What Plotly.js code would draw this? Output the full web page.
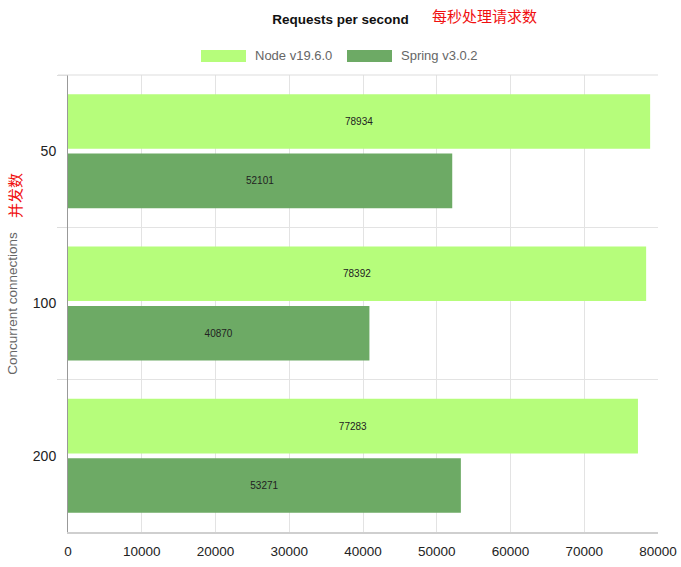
<!DOCTYPE html>
<html>
<head>
<meta charset="utf-8">
<script src="https://cdn.plot.ly/plotly-3.0.1.min.js"></script>
<style>
  html, body { margin:0; padding:0; background:#fff; }
  #chart { width:681px; height:567px; }
</style>
</head>
<body>
<div id="chart"></div>
<script>
// ── Data ──────────────────────────────────────────────────
const connections = ['50', '100', '200'];
const seriesNames = ['Node v19.6.0', 'Spring v3.0.2'];
const nodeRps     = [78934, 78392, 77283];
const springRps   = [52101, 40870, 53271];
const seriesCols  = ['#b6fd7b', '#6daa65'];
const xTicks      = [0, 10000, 20000, 30000, 40000, 50000, 60000, 70000, 80000];

const FONT = '"Liberation Sans", Arial, sans-serif';
const CJK  = '"Noto Sans CJK SC", sans-serif';

const barTrace = (name, vals, col) => ({
  type:'bar', orientation:'h', name,
  y: connections, x: vals,
  marker:{color:col},
  text: vals.map(String),
  textposition:'inside', insidetextanchor:'middle', textangle:0,
  textfont:{size:10, color:'#222', family:FONT},
  constraintext:'none',
  hovertemplate:`<b>${name}</b><br>%{y}: %{x}<extra></extra>`,
});

const traces = [
  barTrace(seriesNames[0], nodeRps, seriesCols[0]),
  barTrace(seriesNames[1], springRps, seriesCols[1]),
];

// ── Custom legend (wide swatches) ─────────────────────────
const plotL = 68, plotW = 590, plotB = 532, plotH = 457;
const px = v => (v - plotL) / plotW;
const py = v => (plotB - v) / plotH;
const legendItems = [
  {sw:[201, 246], tx:253},
  {sw:[347, 392], tx:399},
];
const shapes = legendItems.map((it, i) => ({
  type:'rect', xref:'paper', yref:'paper',
  x0:px(it.sw[0]), x1:px(it.sw[1]), y0:py(62), y1:py(50),
  fillcolor:seriesCols[i], line:{width:0},
}));
// top border of plot, like the category separators
shapes.push({type:'line', xref:'paper', yref:'paper', x0:px(58), x1:1, y0:1, y1:1,
             line:{color:'#ddd', width:1}});

const annotations = legendItems.map((it, i) => ({
  xref:'paper', yref:'paper', x:px(it.tx), y:py(56),
  xanchor:'left', yanchor:'middle', showarrow:false,
  text:seriesNames[i], font:{size:13, color:'#666', family:FONT},
}));

annotations.push(
  { xref:'paper', yref:'paper', x:px(430), y:py(16), xanchor:'left', yanchor:'middle',
    showarrow:false, text:'每秒处理请求数', font:{size:15, color:'#f01010', family:CJK} },
  { xref:'paper', yref:'paper', x:px(14), y:py(196), xanchor:'center', yanchor:'middle',
    showarrow:false, textangle:-90, text:'并发数', font:{size:15, color:'#f01010', family:CJK} }
);

Plotly.newPlot('chart', traces, {
  width:681, height:567,
  paper_bgcolor:'#fff', plot_bgcolor:'#fff',
  margin:{t:75, r:23, b:35, l:68},
  font:{family:FONT, size:13, color:'#222'},
  title:{text:'<b>Requests per second</b>', x:0.5, xref:'container', y:0.966, yanchor:'middle',
         font:{size:13.5, color:'#111', family:FONT}},
  showlegend:false,
  barmode:'group', bargap:0.22, bargroupgap:0.08,
  xaxis:{
    range:[0, 80000], tickvals:xTicks, ticktext:xTicks.map(String),
    showgrid:true, gridcolor:'#e3e3e3', zeroline:false,
    showline:true, linecolor:'#cfcfcf', linewidth:2,
    ticks:'', ticklabelstandoff:6, tickfont:{size:13.5, color:'#222'},
  },
  yaxis:{
    type:'category', autorange:'reversed',
    tickson:'boundaries', ticks:'outside', ticklen:10, tickcolor:'#ddd',
    ticklabelstandoff:8,
    showgrid:true, gridcolor:'#e3e3e3',
    showline:true, linecolor:'#999', linewidth:1,
    tickfont:{size:14, color:'#222'},
    title:{text:'Concurrent connections', standoff:12, font:{size:13.5, color:'#666'}},
  },
  shapes, annotations,
}, {staticPlot:true});
</script>
</body>
</html>
